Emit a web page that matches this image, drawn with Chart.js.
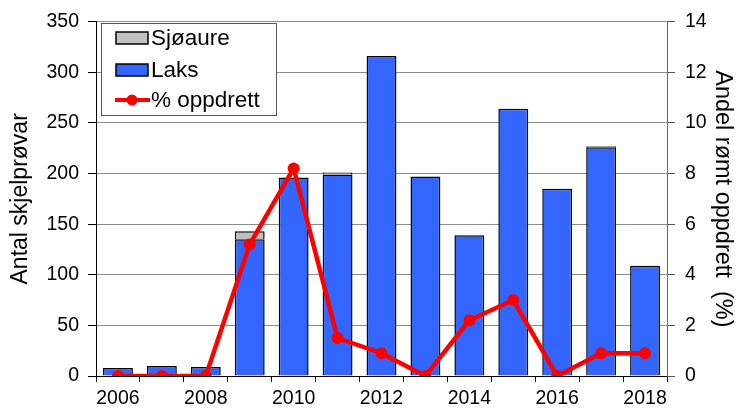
<!DOCTYPE html>
<html lang="no">
<head>
<meta charset="UTF-8">
<title>Skjelprøvar</title>
<script src="https://cdn.jsdelivr.net/npm/chart.js"></script>
<style>
  html, body { margin: 0; padding: 0; background: #fff; }
  #wrap { width: 750px; height: 408px; }
</style>
</head>
<body>
<div id="wrap"><canvas id="chart" width="750" height="408"></canvas></div>
<script>
// data
const years = ['2006','2007','2008','2009','2010','2011','2012','2013','2014','2015','2016','2017','2018'];
const laks = [8, 10, 9, 135, 196, 199, 316, 197, 139, 264, 185, 226, 109];
const sjoaure = [0, 0, 0, 8, 0, 2, 0, 0, 0, 0, 0, 1, 0];
const oppdrett = [0, 0, 0, 5.2, 8.2, 1.5, 0.9, 0, 2.2, 3.0, 0, 0.9, 0.9];
const leftTicks = [0, 50, 100, 150, 200, 250, 300, 350];
const rightTicks = [0, 2, 4, 6, 8, 10, 12, 14];

const FONT = 'Liberation Sans, Arial, sans-serif';
Chart.defaults.font.family = FONT;
Chart.defaults.color = '#000';

// legend drawn inside the plot area, like the original
const boxLegend = {
    id: 'boxLegend',
    afterDraw(chart) {
        const ctx = chart.ctx;
        const x0 = 101, y0 = 23, w = 175, h = 92;
        ctx.save();
        ctx.fillStyle = '#fff';
        ctx.fillRect(x0, y0, w, h);
        ctx.strokeStyle = '#555';
        ctx.lineWidth = 1;
        ctx.strokeRect(x0 + 0.5, y0 + 0.5, w, h);
        const items = [chart.data.datasets[1], chart.data.datasets[0], chart.data.datasets[2]];
        const rows = [38, 70, 100];
        ctx.font = '22.5px ' + FONT;
        ctx.textBaseline = 'middle';
        items.forEach((ds, i) => {
            const y = rows[i];
            if (ds.type === 'line') {
                ctx.strokeStyle = ds.borderColor;
                ctx.lineWidth = 4;
                ctx.beginPath();
                ctx.moveTo(115, y);
                ctx.lineTo(150, y);
                ctx.stroke();
                ctx.fillStyle = ds.borderColor;
                ctx.beginPath();
                ctx.arc(132, y, 5.5, 0, Math.PI * 2);
                ctx.fill();
            } else {
                ctx.fillStyle = ds.backgroundColor;
                ctx.fillRect(116, y - 6, 32, 12);
                ctx.strokeStyle = '#000';
                ctx.lineWidth = 1.5;
                ctx.strokeRect(116, y - 6, 32, 12);
            }
            ctx.fillStyle = '#000';
            ctx.fillText(ds.label, 151, y + 1);
        });
        ctx.restore();
    }
};

const ctx = document.getElementById('chart').getContext('2d');
new Chart(ctx, {
    type: 'bar',
    data: {
        labels: years,
        datasets: [
            {
                label: 'Laks',
                data: laks,
                backgroundColor: '#3366FF',
                borderColor: '#000',
                borderWidth: 1.5,
                stack: 's',
                order: 2,
                categoryPercentage: 1,
                barPercentage: 0.68
            },
            {
                label: 'Sjøaure',
                data: sjoaure,
                backgroundColor: '#C0C0C0',
                borderColor: '#000',
                borderWidth: 1.5,
                stack: 's',
                order: 2,
                categoryPercentage: 1,
                barPercentage: 0.68
            },
            {
                type: 'line',
                label: '% oppdrett',
                data: oppdrett,
                yAxisID: 'y1',
                borderColor: '#FF0000',
                backgroundColor: '#FF0000',
                borderWidth: 4.5,
                pointRadius: 6,
                pointBackgroundColor: '#FF0000',
                pointBorderWidth: 0,
                tension: 0,
                order: 0
            }
        ]
    },
    options: {
        responsive: false,
        animation: false,
        layout: { padding: { top: 20, left: 0, right: 0, bottom: 0 } },
        plugins: {
            legend: { display: false },
            tooltip: { enabled: false }
        },
        scales: {
            x: {
                stacked: true,
                offset: true,
                grid: { display: true, drawOnChartArea: false, offset: true, tickLength: 6, tickColor: '#000' },
                border: { color: '#000', width: 1 },
                ticks: {
                    autoSkip: false,
                    maxRotation: 0,
                    padding: 5,
                    font: { size: 19.5 },
                    callback: function (v, i) { return i % 2 === 0 ? years[i] : ''; }
                },
                afterFit: function (s) { s.height = 32; }
            },
            y: {
                stacked: true,
                position: 'left',
                min: 0,
                max: 350,
                afterBuildTicks: function (s) { s.ticks = leftTicks.map(v => ({ value: v })); },
                grid: { color: '#8c8c8c', lineWidth: 1, tickLength: 8, tickColor: '#000' },
                border: { color: '#000', width: 1 },
                ticks: { padding: 9, font: { size: 19.5 } },
                title: { display: true, text: 'Antal skjelprøvar', font: { size: 23 }, padding: { top: 7, bottom: 0 } },
                afterFit: function (s) { s.width = 96; }
            },
            y1: {
                position: 'right',
                min: 0,
                max: 14,
                afterBuildTicks: function (s) { s.ticks = rightTicks.map(v => ({ value: v })); },
                grid: { drawOnChartArea: false, tickLength: 8, tickColor: '#555' },
                border: { color: '#666', width: 1 },
                ticks: { padding: 10, font: { size: 19.5 } },
                title: { display: true, text: 'Andel rømt oppdrett  (%)', font: { size: 23.5 }, padding: { top: 13, bottom: 0 } },
                afterFit: function (s) { s.width = 83; }
            }
        }
    },
    plugins: [boxLegend]
});
</script>
</body>
</html>
